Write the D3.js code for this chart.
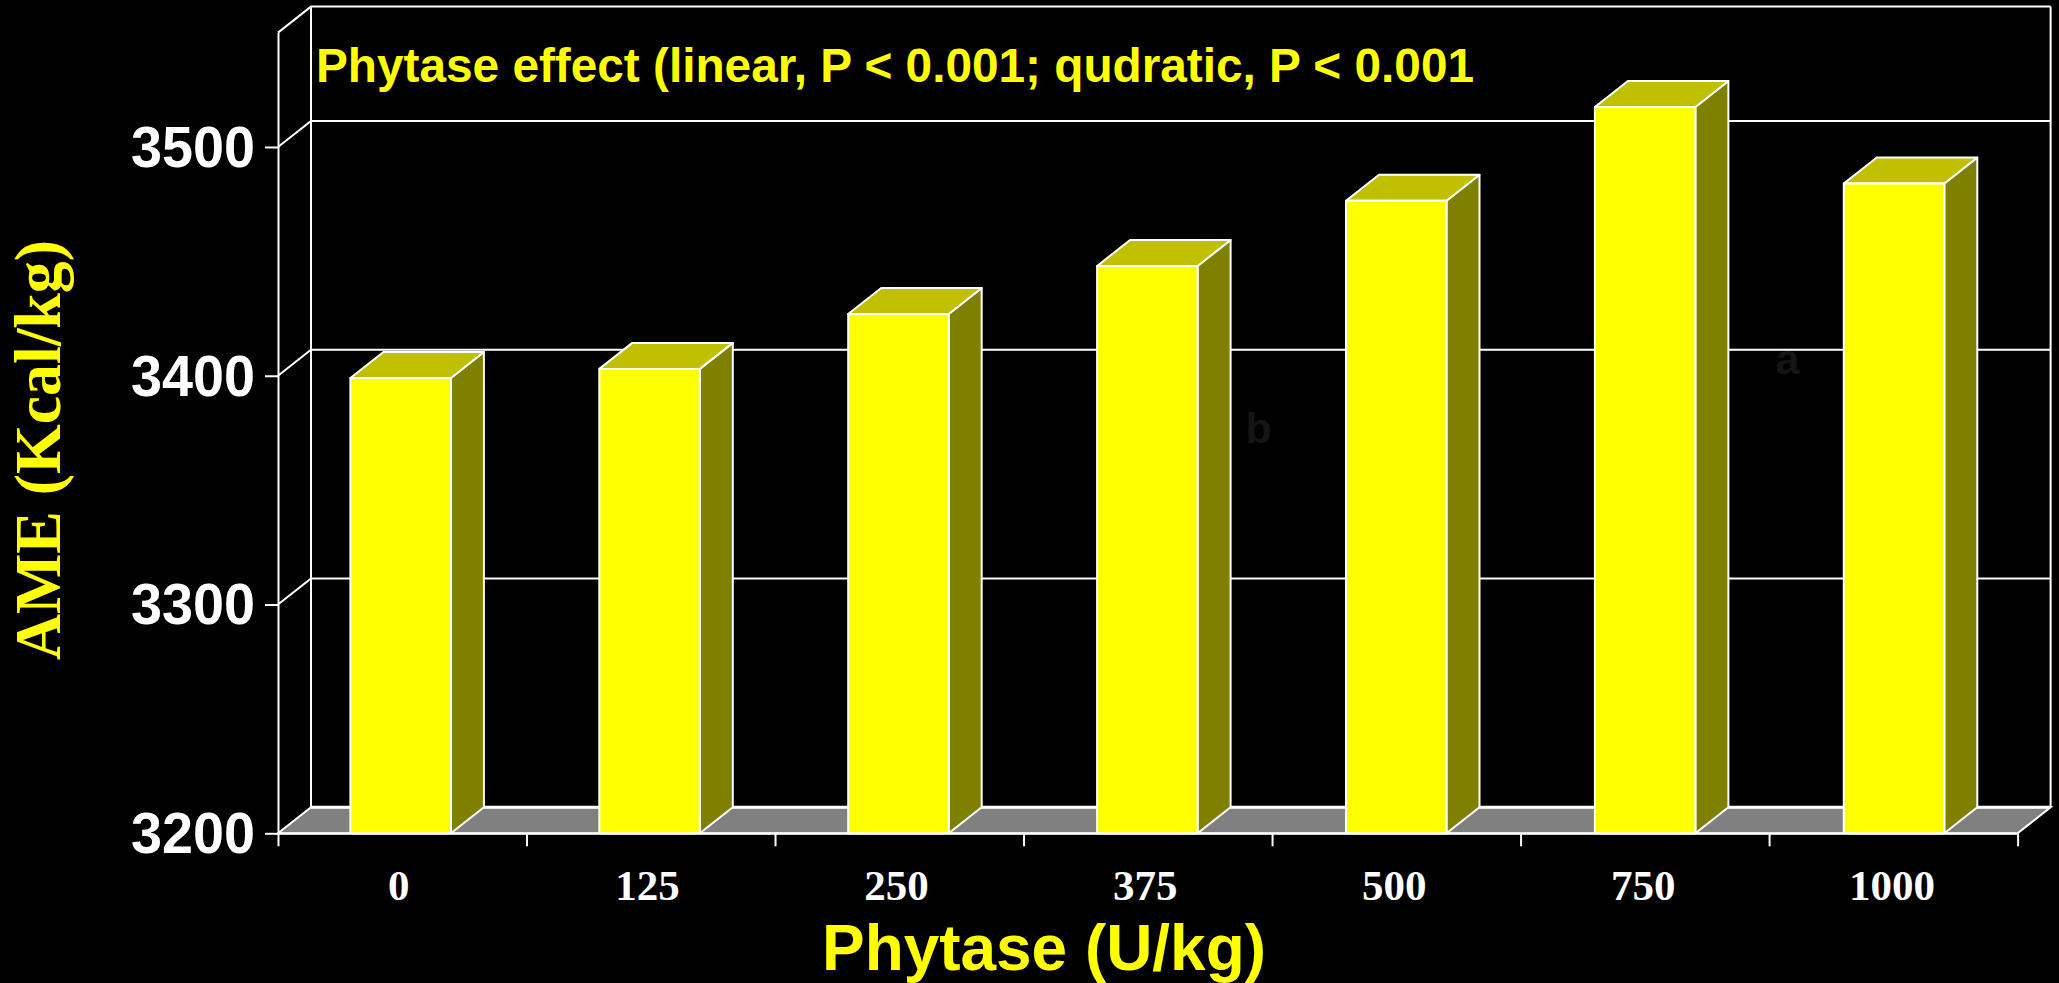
<!DOCTYPE html>
<html lang="en">
<head>
    <meta charset="utf-8">
    <title>AME by phytase level</title>
    <style type="text/css">
        html, body { margin: 0; background: #000; overflow: hidden; }
        svg { display: block; background: #000; }
        .axis path, .axis line, .wall { stroke: #fff; stroke-width: 2; fill: none; }
        .sans { font-family: "Liberation Sans", Arial, sans-serif; font-weight: bold; }
        .serif { font-family: "Liberation Serif", "Times New Roman", serif; font-weight: bold; }
    </style>
</head>
<body>
<svg class="chart" width="2059" height="983"></svg>
<script src="https://d3js.org/d3.v7.min.js"></script>
<script>
    // values
    var categories = ['0', '125', '250', '375', '500', '750', '1000'];
    var ame = [3399, 3403, 3427, 3448, 3476.5, 3517.5, 3484];
    var yTicks = [3200, 3300, 3400, 3500];
    var letters = ['b', 'a'];
    var letterAfter = [3, 5];
    var letterValues = [3370.6, 3400.7];

    var svg = d3.select('.chart');
    var depth = {x: 33, y: 26};

    var y = d3.scaleLinear().domain([3200, 3550]).range([833.3, 32.6]);
    var xEdges = d3.scaleLinear().domain([0, categories.length]).range([278, 2017.6]);
    var x = d3.scaleBand().domain(categories).range([350.4 - 74, 350.4 - 74 + 248.9 * categories.length]);
    var barW = 100.5, barOffset = 74;

    function pts(a) { return a.map(function(p) { return p.join(','); }).join(' '); }

    var x0 = xEdges.range()[0], x1 = xEdges.range()[1];
    var yBase = y(3200), yTop = y(3550);

    // floor
    svg.append('polygon')
        .attr('points', pts([[x0, yBase], [x0 + depth.x, yBase - depth.y], [x1 + depth.x, yBase - depth.y], [x1, yBase]]))
        .attr('fill', '#808080').attr('stroke', '#fff').attr('stroke-width', 2);
    svg.append('line').attr('class', 'wall')
        .attr('x1', x0 + depth.x).attr('x2', x1 + depth.x)
        .attr('y1', yBase - depth.y).attr('y2', yBase - depth.y).style('stroke-width', 3);

    // walls and gridlines
    svg.selectAll('.grid').data(yTicks.slice(1).concat([3550])).enter().append('polyline')
        .attr('class', 'wall grid')
        .attr('points', function(d) {
            return pts([[x0, y(d)], [x0 + depth.x, y(d) - depth.y], [x1 + depth.x, y(d) - depth.y]]);
        });
    svg.append('line').attr('class', 'wall')
        .attr('x1', x0 + depth.x).attr('x2', x0 + depth.x).attr('y1', yTop - depth.y).attr('y2', yBase - depth.y);
    svg.append('line').attr('class', 'wall')
        .attr('x1', x1 + depth.x).attr('x2', x1 + depth.x).attr('y1', yTop - depth.y).attr('y2', yBase - depth.y);

    // axes
    var yAxis = d3.axisLeft(y).tickValues(yTicks).tickSize(13).tickSizeOuter(0).tickPadding(10).tickFormat(d3.format('d'));
    var gy = svg.append('g').attr('class', 'axis sans')
        .attr('transform', 'translate(' + x0 + ',0)').call(yAxis);
    gy.selectAll('text').attr('fill', '#fff').style('font-size', '57px').attr('dy', '0.34em')
        .attr('textLength', 124).attr('lengthAdjust', 'spacingAndGlyphs');

    var xAxis = d3.axisBottom(xEdges).tickValues(d3.range(categories.length + 1)).tickSize(13).tickSizeOuter(0).tickFormat('');
    svg.append('g').attr('class', 'axis')
        .attr('transform', 'translate(0,' + yBase + ')').call(xAxis);

    var xLabels = d3.axisBottom(x).tickSize(0).tickPadding(36);
    var gx = svg.append('g').attr('class', 'serif')
        .attr('transform', 'translate(0,' + yBase + ')').call(xLabels);
    gx.select('.domain').remove();
    gx.selectAll('text').attr('fill', '#fff').style('font-size', '43px')
        .attr('dx', -2 + barOffset + barW / 2 - x.bandwidth() / 2);

    // bars
    var bars = svg.selectAll('.bar').data(ame).enter().append('g').attr('class', 'bar')
        .attr('stroke', '#fff').attr('stroke-width', 2).attr('stroke-linejoin', 'round');
    var left = function(i) { return x(categories[i]) + barOffset; };
    bars.append('polygon').attr('fill', '#808000').attr('points', function(d, i) {
        var r = left(i) + barW;
        return pts([[r, y(d)], [r + depth.x, y(d) - depth.y], [r + depth.x, yBase - depth.y], [r, yBase]]);
    });
    bars.append('polygon').attr('fill', '#c0c000').attr('points', function(d, i) {
        var l = left(i), r = l + barW;
        return pts([[l, y(d)], [l + depth.x, y(d) - depth.y], [r + depth.x, y(d) - depth.y], [r, y(d)]]);
    });
    bars.append('rect').attr('fill', '#ffff00')
        .attr('x', function(d, i) { return left(i); })
        .attr('y', function(d) { return y(d); })
        .attr('width', barW)
        .attr('height', function(d) { return yBase - y(d); });

    // nearly invisible significance letters
    var letterGap = [15, 47];
    svg.selectAll('.letter').data(letters).enter().append('text')
        .attr('class', 'letter sans')
        .attr('x', function(d, i) { return left(letterAfter[i]) + barW + depth.x + letterGap[i]; })
        .attr('y', function(d, i) { return y(letterValues[i]); })
        .attr('fill', '#151515').style('font-size', '43px')
        .text(function(d) { return d; });

    // titles
    svg.append('text').attr('class', 'sans').attr('x', 316).attr('y', 82)
        .attr('fill', '#ffff00').style('font-size', '48px')
        .attr('textLength', 1158).attr('lengthAdjust', 'spacingAndGlyphs')
        .text('Phytase effect (linear, P < 0.001; qudratic, P < 0.001');

    svg.append('text').attr('class', 'sans').attr('x', 822).attr('y', 969.5)
        .attr('fill', '#ffff00').style('font-size', '64px')
        .attr('textLength', 444).attr('lengthAdjust', 'spacingAndGlyphs')
        .text('Phytase (U/kg)');

    svg.append('text').attr('class', 'serif')
        .attr('transform', 'translate(60,660) rotate(-90)')
        .attr('fill', '#ffff00').style('font-size', '66px')
        .attr('textLength', 420).attr('lengthAdjust', 'spacingAndGlyphs')
        .text('AME (Kcal/kg)');
</script>
</body>
</html>
